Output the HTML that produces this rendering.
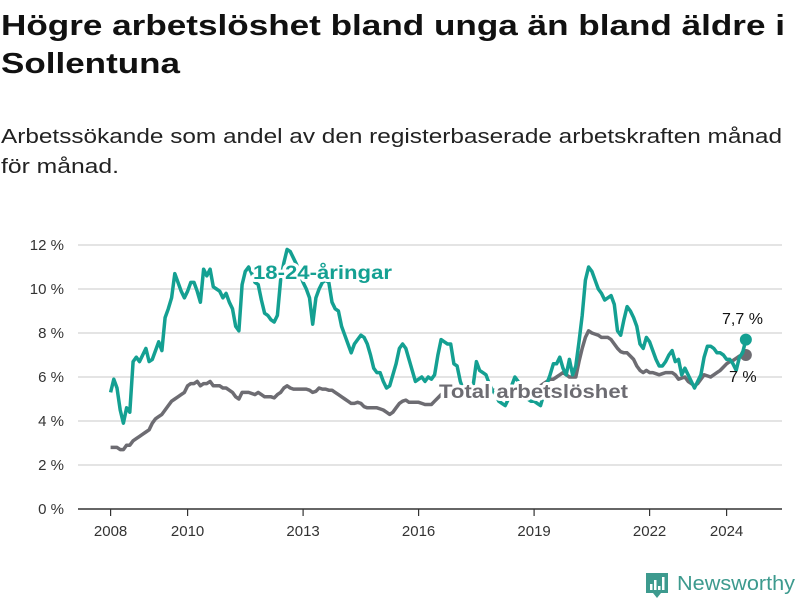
<!DOCTYPE html>
<html><head><meta charset="utf-8"><style>
html,body{margin:0;padding:0;background:#fff;}
svg{display:block;font-family:"Liberation Sans",sans-serif;}
</style></head><body>
<svg id="chart" width="800" height="600" viewBox="0 0 800 600">
<text x="1" y="35" font-size="29" font-weight="bold" fill="#111" textLength="784" lengthAdjust="spacingAndGlyphs">Högre arbetslöshet bland unga än bland äldre i</text>
<text x="1" y="73" font-size="29" font-weight="bold" fill="#111" textLength="179" lengthAdjust="spacingAndGlyphs">Sollentuna</text>
<text x="1" y="143" font-size="20" fill="#222" textLength="781" lengthAdjust="spacingAndGlyphs">Arbetssökande som andel av den registerbaserade arbetskraften månad</text>
<text x="1" y="173" font-size="20" fill="#222" textLength="118" lengthAdjust="spacingAndGlyphs">för månad.</text>
<g id="grid"></g>
<g id="yaxis"></g>
<g id="xaxis"></g>
<g id="series"></g>
<g id="labels"></g>
<g>
<path d="M646 573 h22 v20 h-7 l-4 5 l-4 -5 h-7 z" fill="#3d9a8e"/>
<rect x="650" y="584" width="2.5" height="6" fill="#fff"/><rect x="654" y="580" width="2.5" height="10" fill="#fff"/><rect x="658" y="586" width="2.5" height="4" fill="#fff"/><rect x="662" y="577" width="2.5" height="13" fill="#fff"/>
<text x="677" y="590" font-size="20" fill="#3d9a8e" textLength="118" lengthAdjust="spacingAndGlyphs">Newsworthy</text>
</g>
</svg>
<script>
const yTicks = [0,2,4,6,8,10,12];
const xTickYears = [2008,2010,2013,2016,2019,2022,2024];
const startYear = 2008;
const youth = [
5.3,5.9,5.5,4.5,3.9,4.6,4.4,6.7,6.9,6.7,7.0,7.3,
6.7,6.8,7.2,7.6,7.2,8.7,9.1,9.6,10.7,10.3,9.9,9.6,
9.9,10.3,10.3,9.9,9.4,10.9,10.6,10.9,10.1,10.0,9.9,9.6,
9.8,9.4,9.1,8.3,8.1,10.2,10.8,11.0,10.7,10.3,10.2,9.5,
8.9,8.8,8.6,8.5,8.8,10.4,11.2,11.8,11.7,11.4,11.1,10.7,
10.3,10.0,9.6,8.4,9.6,10.0,10.3,10.4,10.3,9.4,9.1,9.0,
8.3,7.9,7.5,7.1,7.5,7.7,7.9,7.8,7.5,7.0,6.4,6.2,
6.2,5.8,5.5,5.6,6.1,6.6,7.3,7.5,7.3,6.8,6.3,5.8,
5.9,6.0,5.8,6.0,5.9,6.1,7.0,7.7,7.6,7.5,7.5,6.6,
6.5,5.8,5.4,5.3,5.4,5.6,6.7,6.3,6.2,6.1,5.7,5.4,
5.2,4.9,4.8,4.7,5.0,5.6,6.0,5.8,5.4,5.2,5.0,4.9,
4.9,4.8,4.7,5.2,5.7,6.1,6.6,6.6,6.9,6.4,6.1,6.8,
6.1,6.5,7.6,8.8,10.4,11.0,10.8,10.4,10.0,9.8,9.5,9.6,
9.7,9.3,8.1,7.9,8.6,9.2,9.0,8.7,8.3,7.5,7.3,7.8,
7.6,7.2,6.8,6.5,6.5,6.7,7.0,7.2,6.7,6.8,6.1,6.4,
6.1,5.8,5.5,5.8,6.1,6.9,7.4,7.4,7.3,7.1,7.1,7.0,
6.8,6.8,6.6,6.3,6.9,7.1,7.7];
const total = [
2.8,2.8,2.8,2.7,2.7,2.9,2.9,3.1,3.2,3.3,3.4,3.5,
3.6,3.9,4.1,4.2,4.3,4.5,4.7,4.9,5.0,5.1,5.2,5.3,
5.6,5.7,5.7,5.8,5.6,5.7,5.7,5.8,5.6,5.6,5.6,5.5,
5.5,5.4,5.3,5.1,5.0,5.3,5.3,5.3,5.25,5.2,5.3,5.2,
5.1,5.1,5.1,5.05,5.2,5.3,5.5,5.6,5.5,5.45,5.45,5.45,
5.45,5.45,5.4,5.3,5.35,5.5,5.45,5.45,5.4,5.4,5.3,5.2,
5.1,5.0,4.9,4.8,4.8,4.85,4.8,4.65,4.6,4.6,4.6,4.6,
4.55,4.5,4.4,4.3,4.4,4.6,4.8,4.9,4.95,4.85,4.85,4.85,
4.85,4.8,4.75,4.75,4.75,4.9,5.05,5.2,5.3,5.4,5.4,5.4,
5.4,5.4,5.4,5.4,5.4,5.4,5.4,5.4,5.4,5.4,5.4,5.4,
5.4,5.4,5.4,5.4,5.4,5.4,5.4,5.4,5.4,5.4,5.4,5.4,
5.4,5.5,5.6,5.7,5.8,5.9,5.9,6.0,6.1,6.2,6.1,6.0,
6.0,6.0,6.7,7.3,7.8,8.1,8.0,7.95,7.9,7.8,7.8,7.8,
7.7,7.5,7.3,7.15,7.1,7.1,6.95,6.8,6.5,6.3,6.2,6.3,
6.2,6.2,6.15,6.1,6.15,6.2,6.2,6.2,6.1,5.9,5.95,6.0,
5.8,5.7,5.6,5.7,5.9,6.1,6.05,6.0,6.1,6.2,6.3,6.45,
6.6,6.7,6.75,6.85,6.95,7.0,7.0];
const seriesNames = ["18-24-åringar","Total arbetslöshet"];

const NS="http://www.w3.org/2000/svg";
const X0=110.6, PX_YEAR=38.5, Y0=509, PX_PCT=22;
function xScale(m){return X0 + m/12*PX_YEAR;}
function yScale(v){return Y0 - v*PX_PCT;}
function mk(tag,attrs,parent){const e=document.createElementNS(NS,tag);for(const k in attrs)e.setAttribute(k,attrs[k]);parent.appendChild(e);return e;}
function fmt(v){return String(v).replace('.',',')+' %';}

const grid=document.getElementById('grid'), yax=document.getElementById('yaxis'), xax=document.getElementById('xaxis');
yTicks.forEach(t=>{
  if(t>0){const l=mk('line',{x1:78,x2:782,y1:yScale(t),y2:yScale(t),stroke:'#dcdcdc','stroke-width':1.5},grid);
  
  }
  const tx=mk('text',{x:64,y:yScale(t)+5,'text-anchor':'end','font-size':15,fill:'#333'},yax);
  
  
  tx.textContent=t+' %';
});
const ax=mk('line',{x1:78,x2:782,y1:Y0,y2:Y0,stroke:'#333','stroke-width':1.5},xax);


xTickYears.forEach(yr=>{
  const x=xScale((yr-startYear)*12);
  const tk=mk('line',{x1:x,x2:x,y1:Y0,y2:Y0+7,stroke:'#333','stroke-width':1.2},xax);
  
  
  const tx=mk('text',{x:x,y:Y0+27,'text-anchor':'middle','font-size':15,fill:'#333'},xax);
  
  
  tx.textContent=yr;
});

const ser=document.getElementById('series');
function drawLine(data,color,name){
  const d=data.map((v,i)=>(i?'L':'M')+xScale(i).toFixed(1)+','+yScale(v).toFixed(1)).join(' ');
  const p=mk('path',{d:d,fill:'none',stroke:color,'stroke-width':3.5,'stroke-linejoin':'round'},ser);
  
  
  const n=data.length-1;
  const c=mk('circle',{cx:xScale(n),cy:yScale(data[n]),r:6,fill:color},ser);
  
  
}
const labs=document.getElementById('labels');
function label(txt,x,y,color,bold,name,size,len){
  const t=mk('text',{x:x,y:y,'font-size':size,fill:color,'font-weight':bold?'bold':'normal',stroke:'#fff','stroke-width':bold?6:0,'paint-order':'stroke','stroke-linejoin':'round'},labs);
  if(len){t.setAttribute('textLength',len);t.setAttribute('lengthAdjust','spacingAndGlyphs');}
  
  
  t.textContent=txt;
}
drawLine(total,'#6d6c72','total');
label('7 %',729,382,'#111',false,'total-end-value',16,0);
drawLine(youth,'#14a092','youth');
label(seriesNames[0],253,279,'#14a092',true,'youth-series-label',19,139);
label(seriesNames[1],439,398,'#6d6c72',true,'total-series-label',19,189);
label(fmt(youth[youth.length-1]),722,324,'#111',false,'youth-end-value',16,0);
</script>
</body></html>
